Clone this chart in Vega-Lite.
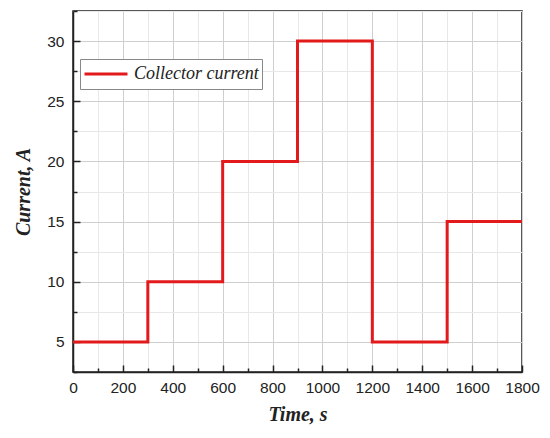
{
  "$schema": "https://vega.github.io/schema/vega-lite/v6.json",
  "autosize": {"type": "none"},
  "padding": {"left": 73, "top": 11, "right": 28, "bottom": 66},
  "width": 449,
  "height": 361,
  "config": {
    "view": {"stroke": "#222", "strokeWidth": 1.5},
    "font": "Liberation Sans"
  },
  "data": {
    "values": [
      {"time": 0, "current": 5, "series": "Collector current"},
      {"time": 300, "current": 10, "series": "Collector current"},
      {"time": 600, "current": 20, "series": "Collector current"},
      {"time": 900, "current": 30, "series": "Collector current"},
      {"time": 1200, "current": 5, "series": "Collector current"},
      {"time": 1500, "current": 15, "series": "Collector current"},
      {"time": 1800, "current": 15, "series": "Collector current"}
    ]
  },
  "mark": {"type": "line", "interpolate": "step-after", "strokeWidth": 3, "clip": true},
  "encoding": {
    "x": {
      "field": "time", "type": "quantitative",
      "scale": {"domain": [0, 1800], "nice": false, "zero": false},
      "axis": {
        "values": [0,100,200,300,400,500,600,700,800,900,1000,1100,1200,1300,1400,1500,1600,1700,1800],
        "labelExpr": "datum.value % 200 === 0 ? datum.label : ''",
        "format": "d",
        "labelOverlap": false,
        "labelFlush": false,
        "title": "Time, s",
        "titleFont": "Liberation Serif", "titleFontStyle": "italic", "titleFontWeight": "bold",
        "titleFontSize": 20, "titleColor": "#222", "titlePadding": 6,
        "labelFontSize": 15.5, "labelColor": "#222", "labelPadding": 15,
        "domainColor": "#222", "domainWidth": 1.5,
        "tickColor": "#222", "tickWidth": 1.5,
        "tickSize": {"condition": {"test": "datum.value % 200 === 0", "value": -7}, "value": -4},
        "grid": true,
        "gridColor": {"condition": {"test": "datum.value % 200 === 0", "value": "#cfcfcf"}, "value": "#e8e8e8"},
        "gridWidth": 1
      }
    },
    "y": {
      "field": "current", "type": "quantitative",
      "scale": {"domain": [2.5, 32.5], "nice": false, "zero": false},
      "axis": {
        "values": [2.5,5,7.5,10,12.5,15,17.5,20,22.5,25,27.5,30,32.5],
        "labelExpr": "datum.value % 5 === 0 ? datum.label : ''",
        "format": "d",
        "labelOverlap": false,
        "labelFlush": false,
        "title": "Current, A",
        "titleFont": "Liberation Serif", "titleFontStyle": "italic", "titleFontWeight": "bold",
        "titleFontSize": 20, "titleColor": "#222", "titlePadding": 13,
        "labelFontSize": 15.5, "labelColor": "#222", "labelPadding": 16,
        "domainColor": "#222", "domainWidth": 1.5,
        "tickColor": "#222", "tickWidth": 1.5,
        "tickSize": {"condition": {"test": "datum.value % 5 === 0", "value": -7}, "value": -4},
        "grid": true,
        "gridColor": {"condition": {"test": "datum.value % 5 === 0", "value": "#cfcfcf"}, "value": "#e8e8e8"},
        "gridWidth": 1
      }
    },
    "color": {
      "field": "series", "type": "nominal",
      "scale": {"range": ["#e31a1c"]},
      "legend": {
        "title": null,
        "orient": "none",
        "legendX": 7,
        "legendY": 48,
        "symbolType": "stroke",
        "symbolSize": 1849,
        "symbolStrokeWidth": 3,
        "clipHeight": 24,
        "labelFont": "Liberation Serif",
        "labelFontStyle": "italic",
        "labelFontSize": 18,
        "labelColor": "#222",
        "labelOffset": 5,
        "labelLimit": 300,
        "padding": 3,
        "strokeColor": "#888",
        "fillColor": "#fff"
      }
    }
  }
}
